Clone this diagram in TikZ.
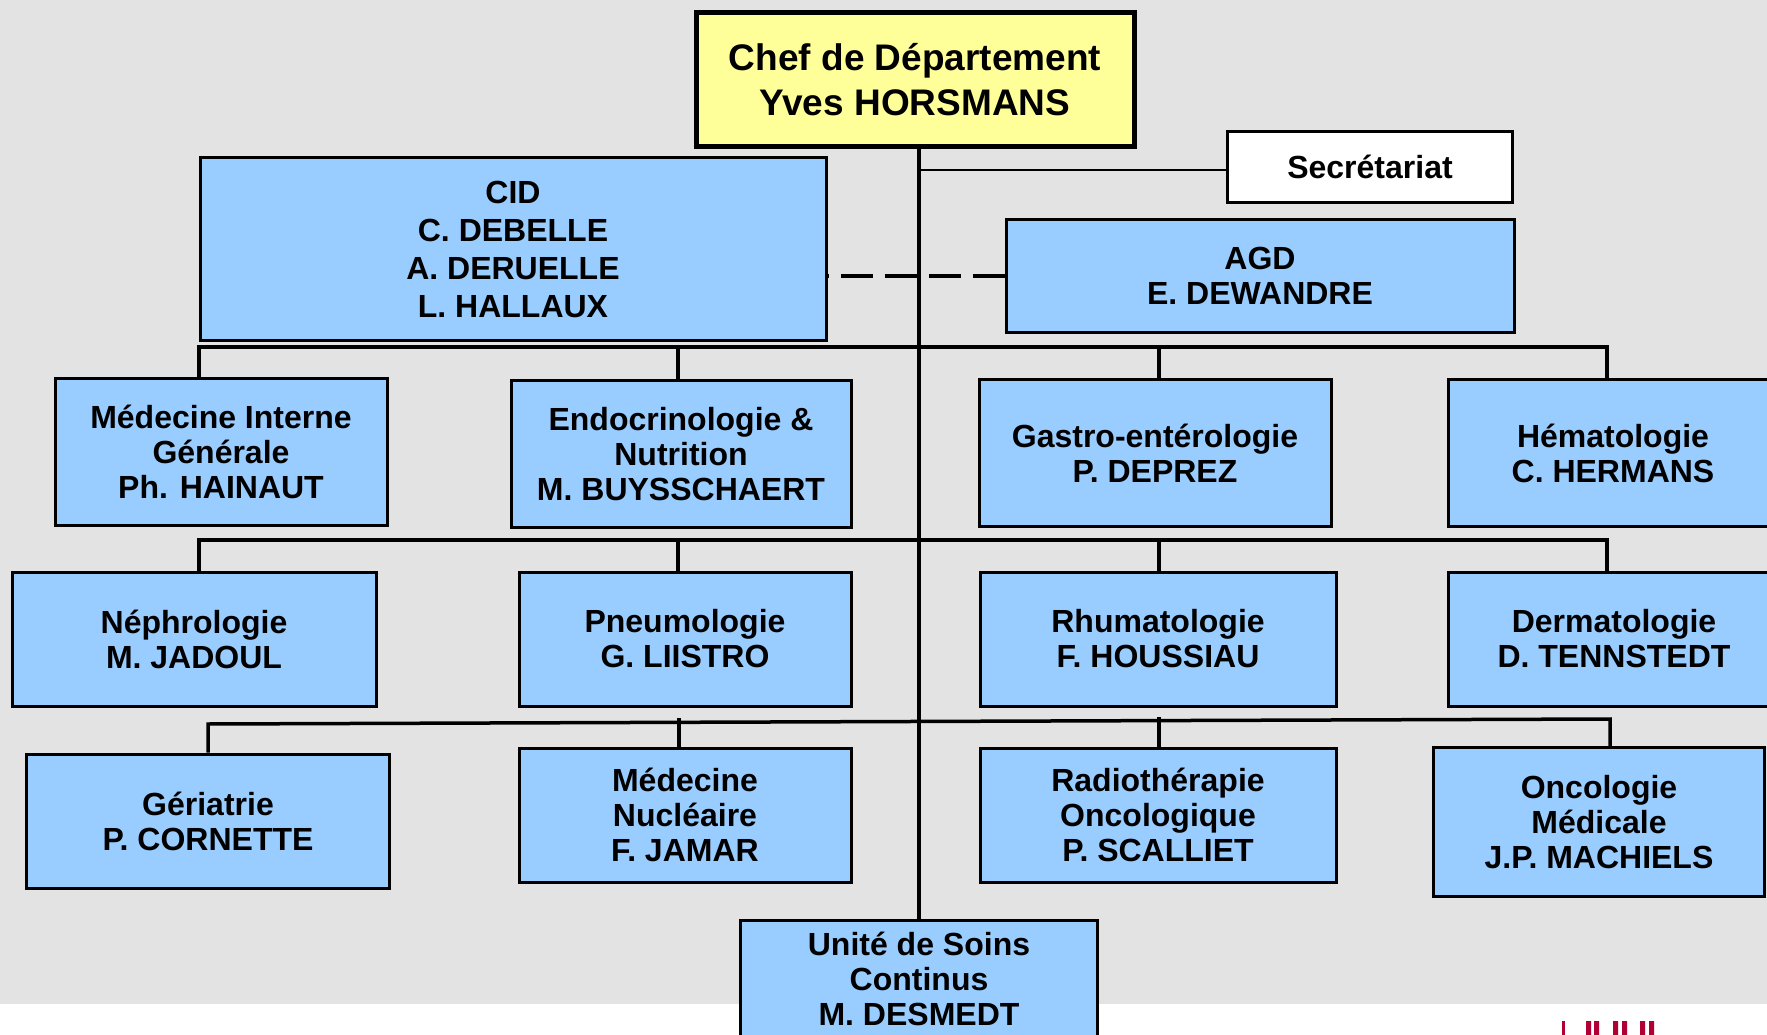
\documentclass[tikz,border=0pt]{standalone}
\usepackage{fontspec}
\setmainfont{Liberation Sans}
\usetikzlibrary{calc}

\definecolor{bggrey}{HTML}{E3E3E3}
\definecolor{unitblue}{HTML}{99CCFF}
\definecolor{chefyellow}{HTML}{FFFF99}
\definecolor{logored}{RGB}{176,0,52}

\begin{document}
\begin{tikzpicture}[x=1pt, y=-1pt,
  unit/.style={draw=black, line width=3pt, fill=unitblue, inner sep=0pt, align=center,
    font=\fontsize{32}{35}\selectfont\bfseries},
  bus/.style={line width=3.5pt}]

  % Page and background
  \useasboundingbox (0,0) rectangle (1767,1035);
  \clip (0,0) rectangle (1767,1035);
  \fill[bggrey] (0,0) rectangle (1767,1004);

  % Logo fragment
  \fill[logored] (1562,1021) rectangle (1565,1035);
  \fill[logored] (1586,1021) rectangle (1591,1035) (1594,1021) rectangle (1599,1035);
  \fill[logored] (1613,1021) rectangle (1618,1035) (1622,1021) rectangle (1627,1035);
  \fill[logored] (1640,1021) rectangle (1645,1035) (1649,1021) rectangle (1654,1035);

  % Head of department and staff
  \node[unit, fill=chefyellow, line width=5pt, minimum width=438pt, minimum height=134pt,
    font=\fontsize{37}{45}\selectfont\bfseries] (chef) at (915,80) {Chef de Département\\Yves HORSMANS};
  \node[unit, fill=white, minimum width=285pt, minimum height=71pt] (secr) at (1370,167) {Secrétariat};
  \node[unit, minimum width=626pt, minimum height=182pt, font=\fontsize{32}{38}\selectfont\bfseries]
    (cid) at (513,249) {CID\\C. DEBELLE\\A. DERUELLE\\L. HALLAUX};
  \node[unit, minimum width=508pt, minimum height=112pt] (agd) at (1260,276) {AGD\\E. DEWANDRE};

  % First row
  \node[unit, minimum width=332pt, minimum height=147pt] (mig) at (221,452) {Médecine Interne\\Générale\\Ph. HAINAUT};
  \node[unit, minimum width=340pt, minimum height=147pt] (endo) at (681,454) {Endocrinologie \&\\Nutrition\\M. BUYSSCHAERT};
  \node[unit, minimum width=352pt, minimum height=147pt] (gastro) at (1155,453) {Gastro-entérologie\\P. DEPREZ};
  \node[unit, minimum width=329pt, minimum height=147pt] (hemato) at (1613,453) {Hématologie\\C. HERMANS};

  % Second row
  \node[unit, minimum width=364pt, minimum height=134pt] (nephro) at (194,639) {Néphrologie\\M. JADOUL};
  \node[unit, minimum width=332pt, minimum height=134pt] (pneumo) at (685,639) {Pneumologie\\G. LIISTRO};
  \node[unit, minimum width=356pt, minimum height=134pt] (rhumato) at (1158,639) {Rhumatologie\\F. HOUSSIAU};
  \node[unit, minimum width=332pt, minimum height=134pt] (dermato) at (1614,639) {Dermatologie\\D. TENNSTEDT};

  % Third row
  \node[unit, minimum width=363pt, minimum height=134pt] (geria) at (208,821) {Gériatrie\\P. CORNETTE};
  \node[unit, minimum width=332pt, minimum height=134pt] (nucl) at (685,815) {Médecine\\Nucléaire\\F. JAMAR};
  \node[unit, minimum width=356pt, minimum height=134pt] (radio) at (1158,815) {Radiothérapie\\Oncologique\\P. SCALLIET};
  \node[unit, minimum width=331pt, minimum height=149pt] (onco) at (1599,822) {Oncologie\\Médicale\\J.P. MACHIELS};

  % Continuous care unit
  \node[unit, minimum width=357pt, minimum height=118pt] (usc) at (919,979) {Unité de Soins\\Continus\\M. DESMEDT};

  % Trunk, secretariat and AGD links
  \coordinate (sec) at (919,170);
  \draw[line width=4.5pt] (usc.north |- chef.south) -- (usc.north);
  \draw[line width=1.5pt] (sec) -- (sec -| secr.west);
  \draw[line width=4.5pt, dash pattern=on 31.5pt off 12.5pt] (agd.west) -- (agd.west -| cid.east);

  % Bus lines
  \coordinate (t1a) at (199,347);  \coordinate (t1b) at (678,347);
  \coordinate (t1c) at (1159,347); \coordinate (t1d) at (1607,347);
  \draw[bus] (t1a |- mig.north) -- (t1a) -- (t1d) -- (t1d |- hemato.north);
  \draw[bus] (t1b) -- (t1b |- endo.north);
  \draw[bus] (t1c) -- (t1c |- gastro.north);

  \coordinate (t2a) at (199,540);  \coordinate (t2b) at (678,540);
  \coordinate (t2c) at (1159,540); \coordinate (t2d) at (1607,540);
  \draw[bus] (t2a |- nephro.north) -- (t2a) -- (t2d) -- (t2d |- dermato.north);
  \draw[bus] (t2b) -- (t2b |- pneumo.north);
  \draw[bus] (t2c) -- (t2c |- rhumato.north);

  \coordinate (t3a) at (208,724);  \coordinate (t3b) at (679,718);
  \coordinate (t3c) at (1159,717); \coordinate (t3d) at (1610,719);
  \draw[bus] (t3a |- geria.north) -- (t3a) -- (t3d) -- (t3d |- onco.north);
  \draw[bus] (t3b) -- (t3b |- nucl.north);
  \draw[bus] (t3c) -- (t3c |- radio.north);

\end{tikzpicture}
\end{document}
